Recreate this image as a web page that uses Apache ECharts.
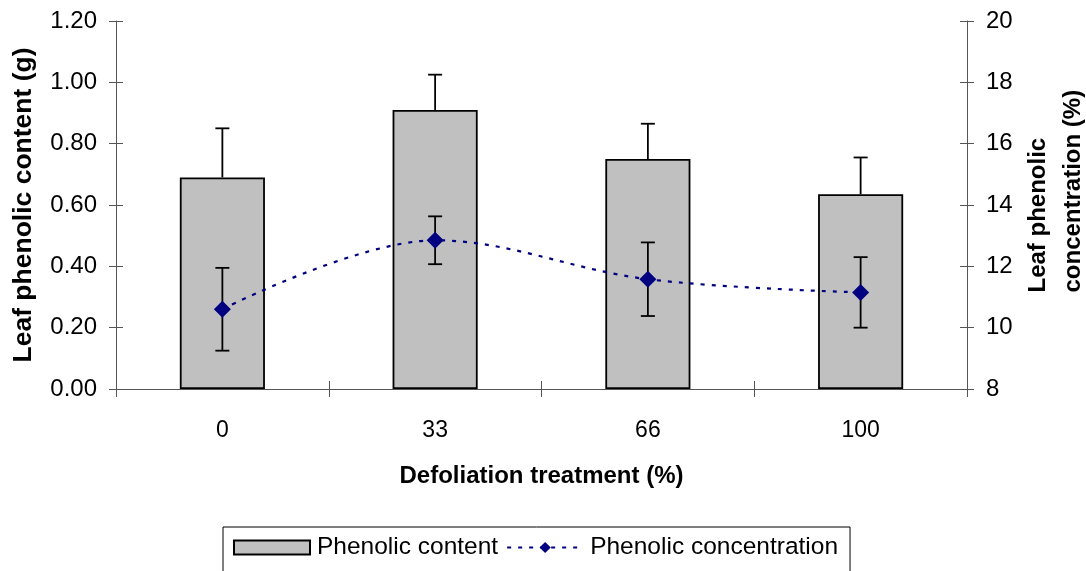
<!DOCTYPE html>
<html>
<head>
<meta charset="utf-8">
<script src="https://cdn.jsdelivr.net/npm/echarts@6/dist/echarts.min.js"></script>
<style>
html,body{margin:0;padding:0;background:#fff;}
#c{width:1086px;height:571px;}
</style>
</head>
<body>
<div id="c"></div>
<script>
const categories = ['0', '33', '66', '100'];
const contentMean = [0.69, 0.91, 0.75, 0.635];
const contentErr = [0.16, 0.115, 0.115, 0.12];
const concMean = [10.6, 12.85, 11.58, 11.15];
const concErr = [1.35, 0.78, 1.2, 1.15];
const leftTicks = {min: 0, max: 1.2, interval: 0.2};
const rightTicks = {min: 8, max: 20, interval: 2};

const FONT = 'Liberation Sans, Arial, sans-serif';
const AXIS_COLOR = '#555';

const chart = echarts.init(document.getElementById('c'), null, {renderer: 'canvas'});

function errRender(upOnly) {
  return function (params, api) {
    const i = api.value(0), m = api.value(1), e = api.value(2);
    const top = api.coord([i, m + e]);
    const base = api.coord([i, upOnly ? m : m - e]);
    const cap = 7;
    const style = {stroke: '#000', lineWidth: 1.8};
    const children = [
      {type: 'line', shape: {x1: top[0], y1: top[1], x2: base[0], y2: base[1]}, style: style},
      {type: 'line', shape: {x1: top[0] - cap, y1: top[1], x2: top[0] + cap, y2: top[1]}, style: style}
    ];
    if (!upOnly) {
      children.push({type: 'line', shape: {x1: base[0] - cap, y1: base[1], x2: base[0] + cap, y2: base[1]}, style: style});
    }
    return {type: 'group', children: children};
  };
}

const yBase = {
  type: 'value',
  splitLine: {show: false},
  axisLine: {show: true, lineStyle: {color: AXIS_COLOR, width: 1}},
  axisTick: {show: true, length: 7, lineStyle: {color: AXIS_COLOR}},
  axisLabel: {fontSize: 24, color: '#000', fontFamily: FONT, margin: 19}
};

const option = {
  backgroundColor: '#fff',
  animation: false,
  grid: {left: 116, right: 119, top: 21, bottom: 182, containLabel: false, outerBoundsMode: 'none'},
  legend: {
    data: [{name: 'Phenolic content', icon: 'rect'}, {name: 'Phenolic concentration'}],
    left: 223,
    top: 527,
    orient: 'horizontal',
    itemWidth: 76,
    itemHeight: 14,
    itemGap: 8,
    padding: [8, 12, 12, 10],
    borderColor: '#000',
    borderWidth: 1,
    textStyle: {fontSize: 24.5, color: '#000', fontFamily: FONT, padding: [0, 0, 0, 2]}
  },
  xAxis: [
    {
      type: 'category',
      data: categories,
      boundaryGap: true,
      name: 'Defoliation treatment (%)',
      nameLocation: 'middle',
      nameGap: 75,
      nameTextStyle: {fontSize: 24, fontWeight: 'bold', color: '#000', fontFamily: FONT, verticalAlign: 'top'},
      axisLine: {show: true, lineStyle: {color: AXIS_COLOR, width: 1}},
      axisTick: {show: true, length: 8, lineStyle: {color: AXIS_COLOR}},
      axisLabel: {fontSize: 23, color: '#000', fontFamily: FONT, margin: 30}
    },
    {
      type: 'category',
      data: categories,
      position: 'bottom',
      boundaryGap: true,
      axisLine: {show: false},
      axisTick: {show: true, inside: true, length: 8, lineStyle: {color: AXIS_COLOR}},
      axisLabel: {show: false}
    }
  ],
  yAxis: [
    Object.assign({}, yBase, leftTicks, {
      position: 'left',
      name: 'Leaf phenolic content (g)',
      nameLocation: 'middle',
      nameGap: 79,
      nameRotate: 90,
      nameTextStyle: {fontSize: 26.5, fontWeight: 'bold', color: '#000', fontFamily: FONT},
      axisLabel: Object.assign({}, yBase.axisLabel, {formatter: v => v.toFixed(2)})
    }),
    Object.assign({}, yBase, rightTicks, {
      position: 'right',
      name: '{a|Leaf phenolic}\n{a|concentration (%)}',
      nameLocation: 'middle',
      nameGap: 54,
      nameRotate: 90,
      nameTextStyle: {
        fontSize: 24, fontWeight: 'bold', color: '#000', fontFamily: FONT,
        align: 'center', verticalAlign: 'top', padding: [0, 0, 0, 30],
        rich: {a: {fontSize: 24, fontWeight: 'bold', color: '#000', fontFamily: FONT, width: 205, align: 'left', lineHeight: 35}}
      }
    }),
    Object.assign({}, leftTicks, {
      type: 'value', position: 'left', splitLine: {show: false},
      axisLine: {show: false}, axisLabel: {show: false},
      axisTick: {show: true, inside: true, length: 7, lineStyle: {color: AXIS_COLOR}}
    }),
    Object.assign({}, rightTicks, {
      type: 'value', position: 'right', splitLine: {show: false},
      axisLine: {show: false}, axisLabel: {show: false},
      axisTick: {show: true, inside: true, length: 7, lineStyle: {color: AXIS_COLOR}}
    })
  ],
  series: [
    {
      name: 'Phenolic content',
      type: 'bar',
      xAxisIndex: 0,
      yAxisIndex: 0,
      data: contentMean,
      barWidth: '40%',
      itemStyle: {color: '#c0c0c0', borderColor: '#000', borderWidth: 1.8},
      z: 2
    },
    {
      name: 'contentErr',
      type: 'custom',
      xAxisIndex: 0,
      yAxisIndex: 0,
      renderItem: errRender(true),
      data: contentMean.map((m, i) => [i, m, contentErr[i]]),
      encode: {x: 0, y: [1]},
      z: 3,
      silent: true
    },
    {
      name: 'concErr',
      type: 'custom',
      xAxisIndex: 0,
      yAxisIndex: 1,
      renderItem: errRender(false),
      data: concMean.map((m, i) => [i, m, concErr[i]]),
      encode: {x: 0, y: [1]},
      z: 4,
      silent: true
    },
    {
      name: 'Phenolic concentration',
      type: 'line',
      xAxisIndex: 0,
      yAxisIndex: 1,
      data: concMean,
      smooth: 0.35,
      symbol: 'diamond',
      symbolSize: 17,
      itemStyle: {color: '#000080'},
      lineStyle: {color: '#000080', width: 2.2, type: [4, 7]},
      z: 5
    }
  ]
};

chart.setOption(option);
</script>
</body>
</html>
